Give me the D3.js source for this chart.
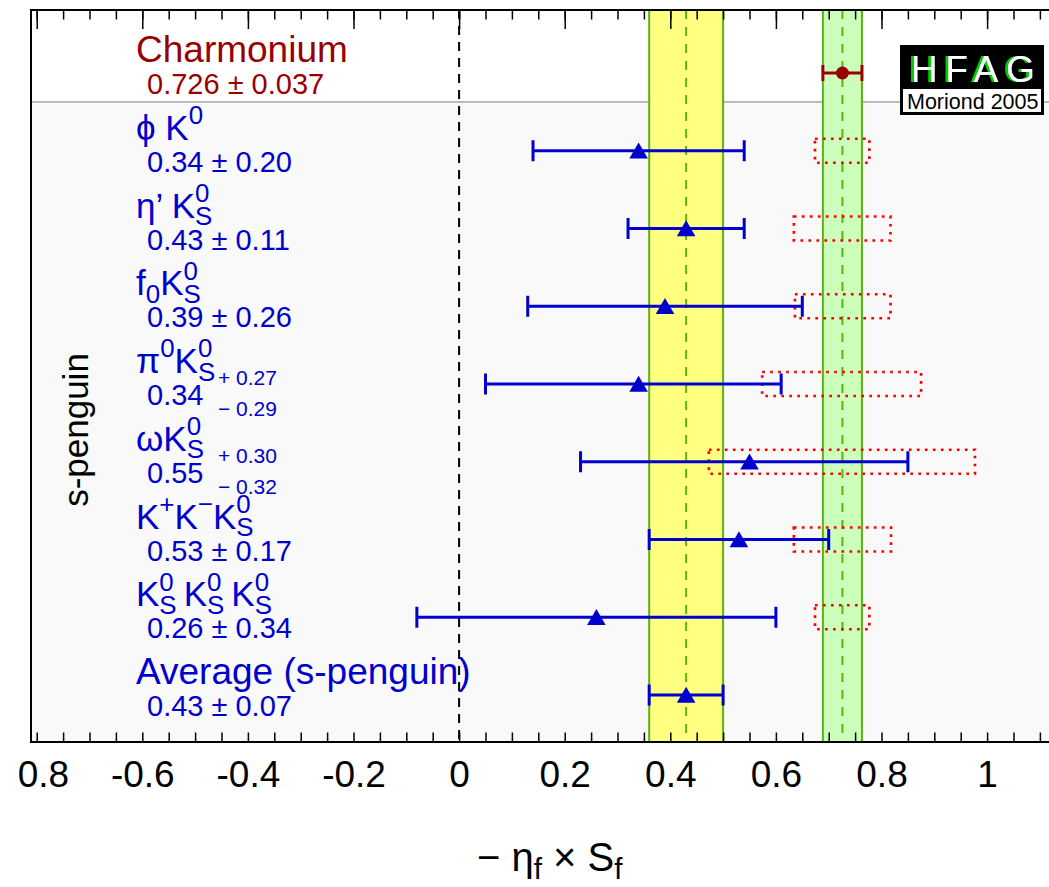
<!DOCTYPE html>
<html>
<head>
<meta charset="utf-8">
<script src="https://cdn.jsdelivr.net/npm/d3@7"></script>
<style>
  body { margin: 0; background: #fff; }
  text { font-family: "Liberation Sans", Arial, sans-serif; white-space: pre; }
</style>
</head>
<body>
<script>
'use strict';

// rows, top to bottom. labels use ^x (superscript) and _x (subscript)
var rows = ['ccs', 'phiK', 'etapK', 'f0K', 'pi0K', 'omegaK', 'KKK', 'KsKsKs', 'avg'];
var rowLabels = ['Charmonium', 'ϕ K^0', 'η’ K_S^0', 'f_0K_S^0', 'π^0K_S^0', 'ωK_S^0',
  'K^+K^−K_S^0', 'K_S^0\u2009K_S^0\u2009K_S^0', 'Average (s-penguin)'];
var values   = [0.726, 0.34, 0.43, 0.39, 0.34, 0.55, 0.53, 0.26, 0.43];
var errPlus  = [0.037, 0.20, 0.11, 0.26, 0.27, 0.30, 0.17, 0.34, 0.07];
var errMinus = [0.037, 0.20, 0.11, 0.26, 0.29, 0.32, 0.17, 0.34, 0.07];
var valueLabels = ['0.726 ± 0.037', '0.34 ± 0.20', '0.43 ± 0.11', '0.39 ± 0.26', '0.34',
  '0.55', '0.53 ± 0.17', '0.26 ± 0.34', '0.43 ± 0.07'];
var plusLabels  = [null, null, null, null, '+ 0.27', '+ 0.30', null, null, null];
var minusLabels = [null, null, null, null, '− 0.29', '− 0.32', null, null, null];
// red dotted boxes (range shown per mode)
var boxLow  = [null, 0.674, 0.634, 0.636, 0.574, 0.473, 0.634, 0.674, null];
var boxHigh = [null, 0.777, 0.817, 0.817, 0.875, 0.977, 0.818, 0.777, null];

var majorTicks = [-0.8, -0.6, -0.4, -0.2, 0, 0.2, 0.4, 0.6, 0.8, 1.0];
var tickLabels = ['-0.8', '-0.6', '-0.4', '-0.2', '0', '0.2', '0.4', '0.6', '0.8', '1'];

var width = 1049, height = 887;
var plotLeft = 31, plotTop = 10, plotBottom = 742, sepY = 102;
var blue = '#0000cc', darkRed = '#990000', green = '#5cb30f';

var svg = d3.select('body').append('svg')
  .attr('width', width)
  .attr('height', height);

var x = d3.scaleLinear().domain([-0.8, 1.0]).range([36.7, 987.1]);
var y = d3.scalePoint().domain(rows).range([73, 695]);

var minorTicks = x.copy().domain([x.invert(plotLeft), x.invert(width)]).ticks(40);

// small helper for labels with sub/superscripts
function parseLabel(s) {
  var out = [], buf = '', i = 0;
  while (i < s.length) {
    var c = s[i];
    if (c === '^' || c === '_') {
      if (buf) { out.push({ t: 'n', s: buf }); buf = ''; }
      var ch = s[i + 1];
      i += 2;
      if (c === '_' && s[i] === '^') {
        out.push({ t: 'bp', b: ch, p: s[i + 1] });
        i += 2;
      } else {
        out.push({ t: c === '^' ? 'p' : 'b', s: ch });
      }
    } else { buf += c; i++; }
  }
  if (buf) out.push({ t: 'n', s: buf });
  return out;
}

// one <text>, one tspan per piece, placed absolutely
function drawRich(g, x0, y0, str, size, color, subShift) {
  var cx = x0, small = size * 0.74, sub = size * (subShift || 0.24);
  var text = g.append('text').attr('fill', color).attr('font-size', size);
  function put(txt, yy, fs) {
    var t = text.append('tspan').attr('x', cx).attr('y', yy)
      .attr('font-size', fs).text(txt);
    return t.node().getComputedTextLength();
  }
  parseLabel(str).forEach(function(sg) {
    if (sg.t === 'n') cx += put(sg.s, y0, size);
    else if (sg.t === 'p') cx += put(sg.s, y0 - size * 0.45, small);
    else if (sg.t === 'b') cx += put(sg.s, y0 + sub, small);
    else {
      var w1 = put(sg.p, y0 - size * 0.45, small);
      var w2 = put(sg.b, y0 + sub, small);
      cx += Math.max(w1, w2);
    }
  });
  return text;
}

// backgrounds
svg.append('rect').attr('x', plotLeft).attr('y', plotTop)
  .attr('width', width - plotLeft).attr('height', sepY - plotTop).attr('fill', '#ffffff');
svg.append('rect').attr('x', plotLeft).attr('y', sepY)
  .attr('width', width - plotLeft).attr('height', plotBottom - sepY).attr('fill', '#f9f9f9');
svg.append('line').attr('x1', plotLeft).attr('x2', width).attr('y1', sepY).attr('y2', sepY)
  .attr('stroke', '#bbbbbb').attr('stroke-width', 2);

// bands: average (yellow) and charmonium (green)
var iAvg = rows.indexOf('avg'), iCcs = rows.indexOf('ccs');
[[iAvg, '#ffff80'], [iCcs, '#ccffbb']].forEach(function(b) {
  var i = b[0];
  var x1 = x(values[i] - errMinus[i]), x2 = x(values[i] + errPlus[i]);
  svg.append('rect').attr('x', x1).attr('y', plotTop)
    .attr('width', x2 - x1).attr('height', plotBottom - plotTop).attr('fill', b[1]);
  [x1, x2].forEach(function(xx) {
    svg.append('line').attr('x1', xx).attr('x2', xx).attr('y1', plotTop).attr('y2', plotBottom)
      .attr('stroke', green).attr('stroke-width', 2);
  });
  svg.append('line').attr('x1', x(values[i])).attr('x2', x(values[i]))
    .attr('y1', plotTop).attr('y2', plotBottom)
    .attr('stroke', green).attr('stroke-width', 2).attr('stroke-dasharray', '9,8');
});

// row labels
var labels = svg.append('g');
rows.forEach(function(r, i) {
  var col = i === iCcs ? darkRed : blue;
  var plain = rowLabels[i].indexOf('^') < 0 && rowLabels[i].indexOf('_') < 0;
  drawRich(labels, 136, y(r) - 11, rowLabels[i], plain ? 37 : 35, col, 0.22);
  labels.append('text').attr('x', 147).attr('y', y(r) + 21)
    .attr('font-size', 29).attr('fill', col).text(valueLabels[i]);
  if (plusLabels[i]) {
    labels.append('text').attr('x', 218).attr('y', y(r) + 1)
      .attr('font-size', 21).attr('fill', col).text(plusLabels[i]);
    labels.append('text').attr('x', 218).attr('y', y(r) + 32)
      .attr('font-size', 21).attr('fill', col).text(minusLabels[i]);
  }
});

svg.append('text')
  .attr('transform', 'translate(88,430) rotate(-90)')
  .attr('text-anchor', 'middle')
  .attr('font-size', 35)
  .attr('fill', '#000')
  .text('s-penguin');

// zero line
svg.append('line').attr('x1', x(0)).attr('x2', x(0)).attr('y1', plotTop).attr('y2', plotBottom)
  .attr('stroke', '#000').attr('stroke-width', 2).attr('stroke-dasharray', '9,7');

// red dotted boxes
rows.forEach(function(r, i) {
  if (boxLow[i] == null) return;
  svg.append('rect')
    .attr('x', x(boxLow[i])).attr('y', y(r) - 12)
    .attr('width', x(boxHigh[i]) - x(boxLow[i])).attr('height', 24)
    .attr('fill', 'none').attr('stroke', '#ff0000')
    .attr('stroke-width', 2.7).attr('stroke-dasharray', '2.7,5.3');
});

// error bars and markers
rows.forEach(function(r, i) {
  var col = i === iCcs ? darkRed : blue;
  var cap = i === iCcs ? 8 : 10.5;
  var lo = x(values[i] - errMinus[i]), hi = x(values[i] + errPlus[i]), yy = y(r);
  var g = svg.append('g').attr('stroke', col).attr('stroke-width', 3);
  g.append('line').attr('x1', lo).attr('x2', hi).attr('y1', yy).attr('y2', yy);
  [lo, hi].forEach(function(xx) {
    g.append('line').attr('x1', xx).attr('x2', xx).attr('y1', yy - cap).attr('y2', yy + cap);
  });
  if (i === iCcs) {
    svg.append('circle').attr('cx', x(values[i])).attr('cy', yy).attr('r', 6.5).attr('fill', col);
  } else {
    svg.append('path')
      .attr('d', d3.symbol().type(d3.symbolTriangle).size(150)())
      .attr('transform', 'translate(' + x(values[i]) + ',' + (yy + 2.5) + ')')
      .attr('fill', col);
  }
});

// axes
svg.append('clipPath').attr('id', 'lblclip')
  .append('rect').attr('x', 19).attr('y', 0).attr('width', width).attr('height', height);

function styleAxis(g) {
  g.select('.domain').remove();
  g.selectAll('line').attr('stroke', '#000').attr('stroke-width', 1.5);
  g.selectAll('text').attr('font-size', 37).attr('fill', '#000')
    .attr('font-family', '"Liberation Sans", Arial, sans-serif');
}

svg.append('g').attr('transform', 'translate(0,' + plotBottom + ')')
  .attr('clip-path', 'url(#lblclip)')
  .call(d3.axisBottom(x).tickValues(majorTicks).tickSize(-19).tickPadding(19)
    .tickFormat(function(d, i) { return tickLabels[i]; }))
  .call(styleAxis);
svg.append('g').attr('transform', 'translate(0,' + plotBottom + ')')
  .call(d3.axisBottom(x).tickValues(minorTicks).tickSize(-9.5).tickFormat(''))
  .call(styleAxis);
svg.append('g').attr('transform', 'translate(0,' + plotTop + ')')
  .call(d3.axisTop(x).tickValues(majorTicks).tickSize(-19).tickFormat(''))
  .call(styleAxis);
svg.append('g').attr('transform', 'translate(0,' + plotTop + ')')
  .call(d3.axisTop(x).tickValues(minorTicks).tickSize(-9.5).tickFormat(''))
  .call(styleAxis);

// frame
svg.append('path')
  .attr('d', 'M' + width + ',' + plotTop + 'H' + plotLeft + 'V' + plotBottom + 'H' + width)
  .attr('fill', 'none').attr('stroke', '#000').attr('stroke-width', 2);

// axis title
drawRich(svg, 477, 871, '− η_f × S_f', 40, '#000', 0.2);

// HFAG logo, green shadow through a filter so the word stays one text
var shadow = svg.append('filter').attr('id', 'hfagShadow')
  .attr('x', '-10%').attr('y', '-10%').attr('width', '120%').attr('height', '120%');
shadow.append('feFlood').attr('flood-color', '#00cc00').attr('result', 'col');
shadow.append('feComposite').attr('in', 'col').attr('in2', 'SourceAlpha')
  .attr('operator', 'in').attr('result', 'sh');
shadow.append('feOffset').attr('in', 'sh').attr('dx', -3).attr('dy', 0).attr('result', 'off');
var merge = shadow.append('feMerge');
merge.append('feMergeNode').attr('in', 'off');
merge.append('feMergeNode').attr('in', 'SourceGraphic');

var logo = svg.append('g');
logo.append('rect').attr('x', 900).attr('y', 45).attr('width', 144).attr('height', 70).attr('fill', '#000');
logo.append('text').attr('x', 911).attr('y', 82).attr('font-size', 37)
  .attr('textLength', 124).attr('fill', '#ffffff')
  .attr('filter', 'url(#hfagShadow)').text('HFAG');
logo.append('rect').attr('x', 903).attr('y', 89).attr('width', 138).attr('height', 23).attr('fill', '#fff');
logo.append('text').attr('x', 907).attr('y', 109).attr('font-size', 21.5)
  .attr('fill', '#000').text('Moriond 2005');
</script>
</body>
</html>
